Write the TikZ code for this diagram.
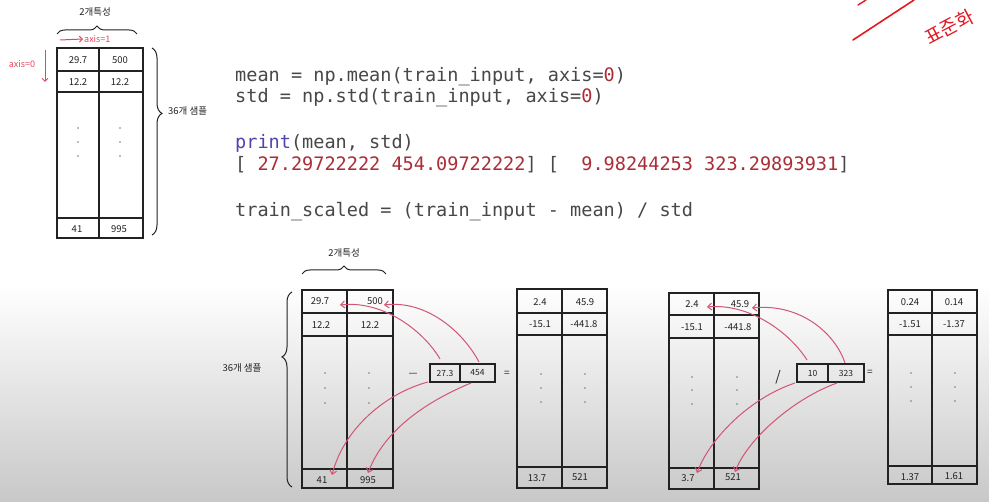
\documentclass[tikz,border=0pt]{standalone}
\usepackage{fontspec}
\newfontfamily\codefont{DejaVu Sans Mono}
\newfontfamily\krfont{Noto Sans CJK KR}
\usetikzlibrary{calc,arrows.meta,decorations.pathreplacing}
\definecolor{numred}{RGB}{170,45,55}
\definecolor{kwblue}{RGB}{80,70,170}
\definecolor{codegray}{RGB}{72,72,72}
\definecolor{ink}{RGB}{34,34,34}
\definecolor{pen}{RGB}{210,85,115}
\definecolor{axred}{RGB}{228,70,95}
\definecolor{bgmid}{RGB}{224,224,224}
\definecolor{bgbot}{RGB}{200,200,200}
\definecolor{scribred}{RGB}{225,25,35}
\begin{document}
\begin{tikzpicture}[x=1pt,y=-1pt,
  code/.style={anchor=base west,inner sep=0pt,font=\codefont\fontsize{18.55}{22}\selectfont,text=codegray},
  hand/.style={font=\krfont\fontsize{9.5}{11}\selectfont,text=ink,inner sep=1pt},
  num/.style={font=\krfont\fontsize{9.5}{10}\selectfont,text=ink,inner sep=1pt},
  grid/.style={draw=ink,line width=1.2pt},
  dotc/.style={circle,fill=ink!60,inner sep=0pt,minimum size=1.6pt},
  penarrow/.style={draw=pen,line width=1pt,-{Straight Barb[length=4pt,width=7pt]}},
  redarrow/.style={draw=axred,line width=1pt,-{Straight Barb[length=3pt,width=6pt]}},
  cell/.style={draw=ink,line width=1.1pt,minimum height=18pt,inner sep=0pt,font=\krfont\fontsize{8.5}{10}\selectfont,text=ink},
]
% background
\useasboundingbox (0,0) rectangle (989,502);
\fill[white] (0,0) rectangle (989,502);
\shade[top color=white,middle color=bgmid,bottom color=bgbot] (0,285) rectangle (989,502);

% ---------- top-left table ----------
\draw[grid] (57,48) rectangle (143,238);
\draw[grid] (99,48) -- (99,238);
\draw[grid] (57,71) -- (143,71) (57,92) -- (143,92) (57,218) -- (143,218);
\node[num] (t0a) at (78,60) {29.7};
\node[num] (t0b) at (120,60) {500};
\node[num] (t0c) at (78,82) {12.2};
\node[num] (t0d) at (120,82) {12.2};
\foreach \yy in {128,142,156}{\node[dotc] at (78,\yy) {}; \node[dotc] at (120,\yy) {};}
\node[num] (t0g) at (77,229) {41};
\node[num] (t0h) at (119,229) {995};
\draw[draw=ink,line width=1pt,decorate,decoration={brace,amplitude=8pt}] (57,34) -- (137,34);
\node[hand] (lbl0a) at (95,12) {2개특성};
\draw[draw=ink,line width=1pt,decorate,decoration={brace,amplitude=10pt,aspect=0.35}] (152,48) -- (152,235);
\node[hand,anchor=west] (lbl0b) at (167,111) {36개 샘플};
\node[font=\krfont\fontsize{9}{10}\selectfont,text=axred,inner sep=1pt,anchor=west] (ax1) at (83,39) {axis=1};
\coordinate (ax1s) at (60,40);
\draw[redarrow] (ax1s) -- (ax1.west);
\node[font=\krfont\fontsize{9}{10}\selectfont,text=axred,inner sep=1pt] (ax0) at (22,64) {axis=0};
\coordinate (ax0s) at (45,50);
\coordinate (ax0e) at (45,82);
\draw[redarrow] (ax0s) -- (ax0e);

% ---------- code ----------
\node[code] (c1) at (235,82) {mean = np.mean(train\_input, axis=\textcolor{numred}{0})};
\node[code] (c2) at (235,103) {std = np.std(train\_input, axis=\textcolor{numred}{0})};
\node[code] (c3) at (235,149) {\textcolor{kwblue}{print}(mean, std)};
\node[code] (c4) at (235,171) {[ \textcolor{numred}{27.29722222 454.09722222}] [~~\textcolor{numred}{9.98244253 323.29893931}]};
\node[code] (c5) at (235,217) {train\_scaled = (train\_input - mean) / std};

% ---------- scribble top right ----------
\coordinate (sc1) at (853,40);
\coordinate (sc2) at (914,0);
\draw[scribred,line width=1.6pt,line cap=round] (sc1) -- (sc2);
\draw[scribred,line width=1.4pt,line cap=round] (858,5) -- (866,0);
\node[font=\krfont\fontsize{19}{20}\selectfont,text=scribred,rotate=28,inner sep=0pt] (pz) at (949,27) {표준화};

% ---------- bottom table 1 ----------
\draw[grid] (302,290) rectangle (393,488);
\draw[grid] (347,290) -- (347,488);
\draw[grid] (302,313) -- (393,313) (302,336) -- (393,336) (302,469) -- (393,469);
\node[num] (t1a) at (320,301) {29.7};
\node[num] (t1b) at (375,301) {500};
\node[num] (t1c) at (321,325) {12.2};
\node[num] (t1d) at (370,325) {12.2};
\foreach \yy in {373,388,403}{\node[dotc] at (325,\yy) {}; \node[dotc] at (369,\yy) {};}
\node[num] (t1g) at (322,480) {41};
\node[num] (t1h) at (368,480) {995};
\draw[draw=ink,line width=1pt,decorate,decoration={brace,amplitude=8pt}] (302,274) -- (386,274);
\node[hand] (lbl1a) at (344,253) {2개특성};
\draw[draw=ink,line width=1pt,decorate,decoration={brace,amplitude=10pt,aspect=0.667}] (292,487) -- (292,292);
\node[hand] (lbl1b) at (242,368) {36개 샘플};

\node[font=\krfont\fontsize{10}{11}\selectfont,text=ink,inner sep=0pt] (op1) at (413,375) {—};
\node[cell,minimum width=30pt] (ma) at (445,373) {27.3};
\node[cell,minimum width=35pt] (mb) at (477.5,373) {454};
\node[font=\krfont\fontsize{10}{11}\selectfont,text=ink,inner sep=0pt] (eq1) at (507,374) {=};

\draw[penarrow] ($(ma)+(-5,-14)$) .. controls (425,333) and (385,300) .. ($(t1a)+(20,4)$);
\draw[penarrow] ($(mb)+(1.5,-11)$) .. controls (462,330) and (425,300) .. ($(t1b)+(9,4)$);
\draw[penarrow] ($(ma)+(-17,9)$) .. controls (390,392) and (345,425) .. ($(t1g)+(10,-5)$);
\draw[penarrow] ($(mb)+(-6.5,10)$) .. controls (430,400) and (385,428) .. ($(t1h)+(0,-7)$);

% ---------- bottom table 2 ----------
\draw[grid] (517,289) rectangle (607,488);
\draw[grid] (562,289) -- (562,488);
\draw[grid] (517,313) -- (607,313) (517,335) -- (607,335) (517,467) -- (607,467);
\node[num] (t2a) at (540,302) {2.4};
\node[num] (t2b) at (585,302) {45.9};
\node[num] (t2c) at (540,324) {-15.1};
\node[num] (t2d) at (584,324) {-441.8};
\foreach \yy in {374,388,402}{\node[dotc] at (541,\yy) {}; \node[dotc] at (585,\yy) {};}
\node[num] (t2g) at (537,478) {13.7};
\node[num] (t2h) at (580,477) {521};

% ---------- bottom table 3 ----------
\draw[grid] (669,293) rectangle (759,489);
\draw[grid] (714,293) -- (714,489);
\draw[grid] (669,315) -- (759,315) (669,338) -- (759,338) (669,468) -- (759,468);
\node[num] (t3a) at (692,304) {2.4};
\node[num] (t3b) at (740,304) {45.9};
\node[num] (t3c) at (692,327) {-15.1};
\node[num] (t3d) at (738,327) {-441.8};
\foreach \yy in {377,390,404}{\node[dotc] at (692,\yy) {}; \node[dotc] at (737,\yy) {};}
\node[num] (t3g) at (688,478) {3.7};
\node[num] (t3h) at (733,477) {521};

\node[font=\krfont\fontsize{14}{15}\selectfont,text=ink,inner sep=0pt] (op2) at (778,377) {/};
\node[cell,minimum width=31pt] (mc) at (812.5,373) {10};
\node[cell,minimum width=36pt] (md) at (846,373) {323};
\node[font=\krfont\fontsize{10}{11}\selectfont,text=ink,inner sep=0pt] (eq2) at (870,373) {=};

\draw[penarrow] ($(mc)+(-5.5,-13)$) .. controls (790,333) and (750,303) .. ($(t3a)+(15,3)$);
\draw[penarrow] ($(md)+(-1,-10)$) .. controls (835,333) and (800,303) .. ($(t3b)+(12,4)$);
\draw[penarrow] ($(mc)+(-17.5,10)$) .. controls (750,398) and (710,438) .. ($(t3g)+(9,-5)$);
\draw[penarrow] ($(md)+(-9,10)$) .. controls (795,398) and (748,438) .. ($(t3h)+(2,-5)$);

% ---------- bottom table 4 ----------
\draw[grid] (888,290) rectangle (977,484);
\draw[grid] (932,290) -- (932,484);
\draw[grid] (888,313) -- (977,313) (888,335) -- (977,335) (888,466) -- (977,466);
\node[num] (t4a) at (910,302) {0.24};
\node[num] (t4b) at (954,302) {0.14};
\node[num] (t4c) at (910,324) {-1.51};
\node[num] (t4d) at (954,324) {-1.37};
\foreach \yy in {373,387,401}{\node[dotc] at (911,\yy) {}; \node[dotc] at (955,\yy) {};}
\node[num] (t4g) at (910,477) {1.37};
\node[num] (t4h) at (954,476) {1.61};
\end{tikzpicture}
\end{document}
